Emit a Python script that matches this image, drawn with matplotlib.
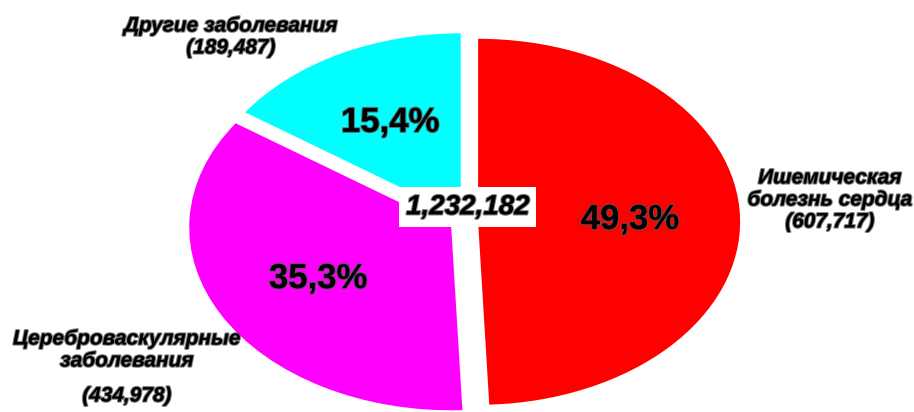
import matplotlib
matplotlib.use("Agg")
import matplotlib.pyplot as plt
import matplotlib.patheffects as pe

# данные
categories = ["Ишемическая\nболезнь сердца", "Цереброваскулярные\nзаболевания", "Другие заболевания"]
deaths = [607717, 434978, 189487]
total_label = "1,232,182"
colors = ["#ff0000", "#ff00ff", "#00ffff"]
explode = [0.05, 0.06, 0.035]

W, H = 914, 412
# центр эллипса и радиусы в пикселях
cx, cy = 465, 222
rx, ry = 262, 183

fig = plt.figure(figsize=(W / 100, H / 100), dpi=100)
ax = fig.add_axes([0, 0, 1, 1])

shadow = [pe.withStroke(linewidth=1.6, foreground="#555555", alpha=0.75)]

wedges, texts, autotexts = ax.pie(
    deaths,
    colors=colors,
    explode=explode,
    startangle=90,
    counterclock=False,
    autopct=lambda p: f"{p:.1f}%".replace(".", ","),
    pctdistance=0.58,
    textprops=dict(fontsize=25, fontweight="bold",
                   family=["Liberation Sans Narrow", "Liberation Sans"]),
)
for t in autotexts:
    t.set_path_effects(shadow)

# растягиваем круг в эллипс
ax.set_aspect("auto")
ax.set_xlim(-cx / rx, (W - cx) / rx)
ax.set_ylim(-(H - cy) / ry, cy / ry)
ax.axis("off")

# общее число в центре
ax.text(0.01, 0.08, total_label, ha="center", va="center", fontsize=20,
        fontweight="bold", fontstyle="italic", family="Liberation Sans",
        path_effects=shadow,
        bbox=dict(facecolor="white", edgecolor="none", pad=5))

# подписи категорий
lab = dict(ha="center", va="center", fontsize=15, fontweight="bold",
           fontstyle="italic", family="Liberation Sans", linespacing=1.2,
           path_effects=shadow)
fig.text(830 / W, 1 - 200 / H, f"{categories[0]}\n({deaths[0]:,})", **lab)
fig.text(127 / W, 1 - 350 / H, categories[1], **lab)
fig.text(127 / W, 1 - 396 / H, f"({deaths[1]:,})", **lab)
fig.text(231 / W, 1 - 37 / H, f"{categories[2]}\n({deaths[2]:,})", **lab)

plt.savefig("out.png", dpi=100)
